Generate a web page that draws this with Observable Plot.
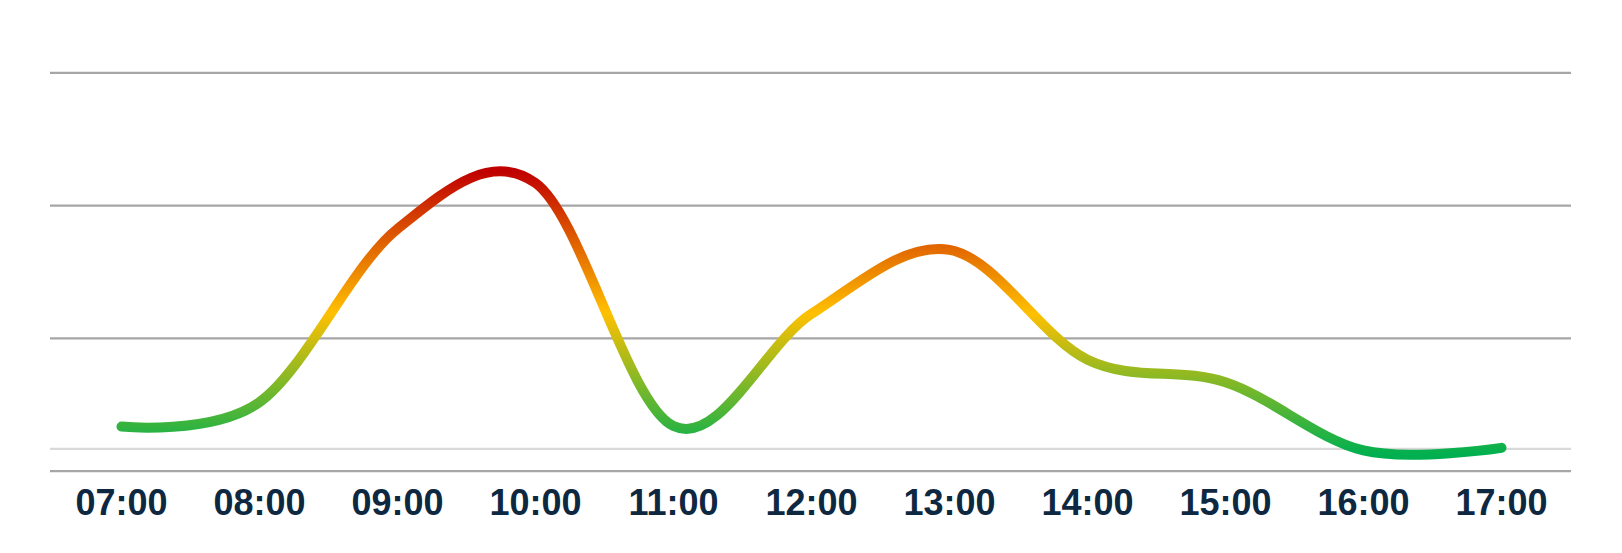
<!DOCTYPE html>
<html>
<head>
<meta charset="utf-8">
<script src="https://cdn.jsdelivr.net/npm/d3@7"></script>
<script src="https://cdn.jsdelivr.net/npm/@observablehq/plot@0.6"></script>
<style>
  html, body { margin: 0; padding: 0; background: #ffffff; overflow: hidden; }
  svg { display: block; }
</style>
</head>
<body>
<div id="chart"></div>
<script>
// Categories (x axis tick labels)
const hours = ["07:00", "08:00", "09:00", "10:00", "11:00", "12:00", "13:00", "14:00", "15:00", "16:00", "17:00"];
// Series values
const values = [0.336, 0.52, 1.825, 2.17, 0.34, 1.185, 1.667, 0.84, 0.67, 0.156, 0.176];
// Horizontal lines
const gridValues = [1, 2, 3];
const axisValue = [0];
const baselineValue = [0.168];

const data = hours.map((h, i) => ({hour: h, value: values[i]}));

// Vertical colour gradient of the line: green (low) -> yellow -> red (high)
const gradientStops = [
  {offset: "0%", color: "#00b050"},
  {offset: "50%", color: "#ffc000"},
  {offset: "100%", color: "#c00000"}
];
const gradientDefs = () => {
  const defs = d3.create("svg:defs");
  const g = defs.append("linearGradient")
    .attr("id", "lineGrad")
    .attr("x1", 0).attr("y1", 1).attr("x2", 0).attr("y2", 0);
  for (const s of gradientStops) {
    g.append("stop").attr("offset", s.offset).attr("stop-color", s.color);
  }
  return defs.node();
};

const chart = Plot.plot({
  width: 1622,
  height: 553,
  marginLeft: 50,
  marginRight: 51,
  marginTop: 72.3,
  marginBottom: 82.3,
  style: {fontFamily: "Liberation Sans, Arial, sans-serif", background: "#ffffff", color: "#0e2841"},
  x: {type: "point", domain: hours, padding: 0, inset: 69},
  y: {domain: [0, 3], axis: null},
  marks: [
    gradientDefs,
    Plot.ruleY(gridValues, {stroke: "#a6a6a6", strokeWidth: 2.3}),
    Plot.ruleY(baselineValue, {stroke: "#d9d9d9", strokeWidth: 2.3}),
    Plot.ruleY(axisValue, {stroke: "#a6a6a6", strokeWidth: 2.3}),
    Plot.axisX({tickSize: 0, tickPadding: 18, fontSize: 36, fontWeight: "bold", fill: "#0e2841", label: null}),
    Plot.line(data, {x: "hour", y: "value", curve: "cardinal", tension: 0, stroke: "url(#lineGrad)", strokeWidth: 10, strokeLinecap: "round", strokeLinejoin: "round"})
  ]
});
document.getElementById("chart").appendChild(chart);
</script>
</body>
</html>
